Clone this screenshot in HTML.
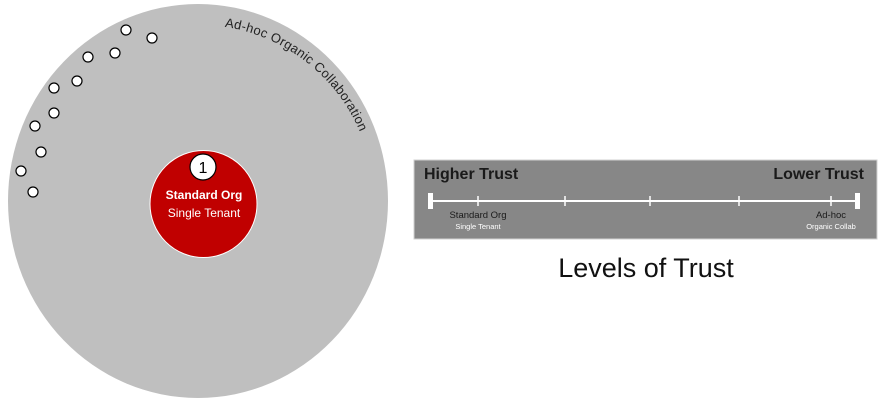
<!DOCTYPE html>
<html><head><meta charset="utf-8"><style>
html,body{margin:0;padding:0;background:#fff;}
svg{display:block;font-family:"Liberation Sans",sans-serif;}
</style></head><body>
<svg width="880" height="402" viewBox="0 0 880 402" xmlns="http://www.w3.org/2000/svg">
<ellipse cx="198" cy="201" rx="190" ry="197" fill="#bfbfbf"/>
<defs>
<path id="arc" d="M 210.7 25.2 A 176 176 0 0 1 374 201"/>
</defs>
<text font-size="13" fill="#222" letter-spacing="0.3"><textPath href="#arc" startOffset="14">Ad-hoc Organic Collaboration</textPath></text>
<g fill="#fff" stroke="#000" stroke-width="1.2">
<circle cx="126" cy="30" r="5"/><circle cx="152" cy="38" r="5"/>
<circle cx="88" cy="57" r="5"/><circle cx="115" cy="53" r="5"/>
<circle cx="54" cy="88" r="5"/><circle cx="77" cy="81" r="5"/>
<circle cx="54" cy="113" r="5"/><circle cx="35" cy="126" r="5"/>
<circle cx="41" cy="152" r="5"/><circle cx="21" cy="171" r="5"/>
<circle cx="33" cy="192" r="5"/>
</g>
<circle cx="203.5" cy="204" r="53.5" fill="#c00000" stroke="#fff" stroke-width="1"/>
<circle cx="203" cy="167" r="13" fill="#fff" stroke="#000" stroke-width="1.2"/>
<text x="203" y="173" font-size="16" text-anchor="middle" fill="#000">1</text>
<text x="204" y="199" font-size="12" font-weight="bold" text-anchor="middle" fill="#fff">Standard Org</text>
<text x="204" y="217" font-size="12" text-anchor="middle" fill="#fff">Single Tenant</text>

<rect x="414" y="160" width="463" height="79" fill="#878787" stroke="#d0d0d0" stroke-width="1"/>
<text x="424" y="179" font-size="16" font-weight="bold" fill="#1a1a1a">Higher Trust</text>
<text x="864" y="179" font-size="16" font-weight="bold" fill="#1a1a1a" text-anchor="end">Lower Trust</text>
<line x1="430" y1="201" x2="857" y2="201" stroke="#fff" stroke-width="2"/>
<rect x="428" y="193" width="5" height="16" fill="#fff"/>
<rect x="855" y="193" width="5" height="16" fill="#fff"/>
<g stroke="#fff" stroke-width="1.5">
<line x1="478" y1="196" x2="478" y2="206"/>
<line x1="565" y1="196" x2="565" y2="206"/>
<line x1="650" y1="196" x2="650" y2="206"/>
<line x1="739" y1="196" x2="739" y2="206"/>
<line x1="831" y1="196" x2="831" y2="206"/>
</g>
<text x="478" y="218" font-size="9.5" text-anchor="middle" fill="#1a1a1a">Standard Org</text>
<text x="478" y="229" font-size="7.5" text-anchor="middle" fill="#fff">Single Tenant</text>
<text x="831" y="218" font-size="9.5" text-anchor="middle" fill="#1a1a1a">Ad-hoc</text>
<text x="831" y="229" font-size="7.5" text-anchor="middle" fill="#fff">Organic Collab</text>
<text x="646" y="277" font-size="27" text-anchor="middle" fill="#111">Levels of Trust</text>
</svg>
</body></html>
